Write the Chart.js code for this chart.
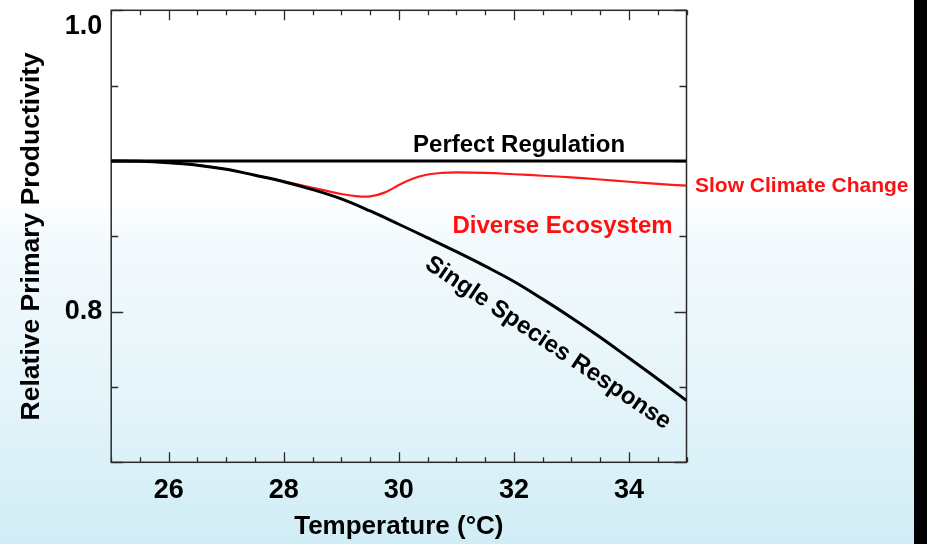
<!DOCTYPE html>
<html>
<head>
<meta charset="utf-8">
<script src="https://cdn.jsdelivr.net/npm/chart.js@4.4.1/dist/chart.umd.min.js"></script>
<style>
html,body{margin:0;padding:0;background:#000;width:927px;height:544px;overflow:hidden}
#wrap{position:absolute;left:0;top:0;width:914px;height:544px;
  background:linear-gradient(to bottom,#ffffff 0%,#ffffff 36%,#f3fafd 44%,#e6f5fa 70%,#d0edf5 100%)}
canvas{display:block}
</style>
</head>
<body>
<div id="wrap"><canvas id="c" width="914" height="544"></canvas></div>
<script>
// ---- data ----
const perfectTemps  = [25, 35];
const perfectValues = [0.900, 0.900];

const singleTemps  = [25, 25.5, 26, 26.5, 27, 27.5, 28, 28.5, 29, 29.5, 30, 30.5, 31, 31.5, 32, 32.5, 33, 33.5, 34, 34.5, 35];
const singleValues = [0.9000, 0.8998, 0.8988, 0.8972, 0.8945, 0.8905, 0.8862, 0.8810, 0.8748, 0.8668, 0.8580, 0.8490, 0.8398, 0.8302, 0.8200, 0.8083, 0.7960, 0.7830, 0.7692, 0.7553, 0.7410];

const diverseTemps  = [25, 25.5, 26, 26.5, 27, 27.5, 28, 28.5, 29, 29.25, 29.5, 29.75, 30, 30.25, 30.5, 30.75, 31, 31.5, 32, 32.5, 33, 33.5, 34, 34.5, 35];
const diverseValues = [0.9000, 0.8998, 0.8988, 0.8972, 0.8945, 0.8905, 0.8865, 0.8822, 0.8781, 0.8767, 0.8765, 0.8790, 0.8840, 0.8884, 0.8910, 0.8921, 0.8924, 0.8921, 0.8912, 0.8902, 0.8891, 0.8877, 0.8862, 0.8848, 0.8836];

const xTickValues = [26, 28, 30, 32, 34];
const xTickLabels = ['26', '28', '30', '32', '34'];
const yTickValues = [0.8, 1.0];
const yTickLabels = ['0.8', '1.0'];

const xTitle = 'Temperature (°C)';
const yTitle = 'Relative Primary Productivity';

const annotations = [
  { text: 'Perfect Regulation',      x: 32.09,  y: 0.9062, color: '#000000', size: 24, align: 'center', baseline: 'alphabetic', angle: 0 },
  { text: 'Diverse Ecosystem',       x: 32.845, y: 0.8522, color: '#ff1010', size: 24, align: 'center', baseline: 'alphabetic', angle: 0 },
  { text: 'Slow Climate Change',     x: 35.147, y: 0.8794, color: '#ff1010', size: 21, align: 'left',   baseline: 'alphabetic', angle: 0 },
  { text: 'Single Species Response', x: 32.593, y: 0.7792, color: '#000000', size: 24, align: 'center', baseline: 'middle',     angle: 34 }
];

// ---- chart ----
const FONT = "'Liberation Sans', Arial, Helvetica, sans-serif";
const pts = (xs, ys) => xs.map((t, i) => ({ x: t, y: ys[i] }));

const frameTicks = {
  id: 'frameTicks',
  beforeDatasetsDraw(chart) {
    const { ctx, chartArea: a, scales: { x, y } } = chart;
    ctx.save();
    ctx.strokeStyle = '#2a2a2a';
    ctx.lineWidth = 1.5;
    ctx.strokeRect(a.left, a.top, a.right - a.left, a.bottom - a.top);
    ctx.lineWidth = 1.3;
    ctx.beginPath();
    for (let i = 0; i <= 20; i++) {
      const v = x.min + i * 0.5;
      const px = Math.round(x.getPixelForValue(v)) + 0.5;
      const L = xTickValues.includes(v) ? 10 : 5;
      ctx.moveTo(px, a.bottom); ctx.lineTo(px, a.bottom - L);
      ctx.moveTo(px, a.top);    ctx.lineTo(px, a.top + L);
    }
    for (let i = 0; i <= 6; i++) {
      const v = y.min + i * 0.05;
      const py = Math.round(y.getPixelForValue(v)) + 0.5;
      const L = (i % 2 === 0) ? 12 : 7;
      ctx.moveTo(a.left, py);  ctx.lineTo(a.left + L, py);
      ctx.moveTo(a.right, py); ctx.lineTo(a.right - L, py);
    }
    ctx.stroke();
    ctx.restore();
  }
};

const labelsPlugin = {
  id: 'labelsPlugin',
  afterDatasetsDraw(chart) {
    const { ctx, scales: { x, y } } = chart;
    ctx.save();
    annotations.forEach(an => {
      ctx.save();
      ctx.translate(x.getPixelForValue(an.x), y.getPixelForValue(an.y));
      ctx.rotate(an.angle * Math.PI / 180);
      ctx.font = 'bold ' + an.size + 'px ' + FONT;
      ctx.fillStyle = an.color;
      ctx.textAlign = an.align;
      ctx.textBaseline = an.baseline;
      ctx.fillText(an.text, 0, 0);
      ctx.restore();
    });
    ctx.restore();
  }
};

new Chart(document.getElementById('c'), {
  type: 'line',
  data: {
    datasets: [
      { label: 'Perfect Regulation', data: pts(perfectTemps, perfectValues), borderColor: '#000', borderWidth: 3, pointRadius: 0, tension: 0 },
      { label: 'Single Species Response', data: pts(singleTemps, singleValues), borderColor: '#000', borderWidth: 3, pointRadius: 0, tension: 0.4 },
      { label: 'Diverse Ecosystem', data: pts(diverseTemps, diverseValues), borderColor: '#ff1a1a', borderWidth: 2.2, pointRadius: 0, tension: 0.4 }
    ]
  },
  options: {
    responsive: false,
    animation: false,
    events: [],
    layout: { padding: { left: 0, top: 10.3, right: 227.5, bottom: 0 } },
    plugins: { legend: { display: false }, tooltip: { enabled: false } },
    scales: {
      x: {
        type: 'linear', position: 'bottom', min: 25, max: 35,
        grid: { display: false, drawTicks: false },
        border: { display: false },
        afterBuildTicks: s => { s.ticks = xTickValues.map(v => ({ value: v })); },
        ticks: {
          color: '#000', padding: 12, maxRotation: 0, autoSkip: false,
          font: { family: FONT, size: 27, weight: 'bold' },
          callback: v => xTickLabels[xTickValues.indexOf(v)]
        },
        title: { display: true, text: xTitle, color: '#000', font: { family: FONT, size: 26, weight: 'bold' }, padding: { top: 0, bottom: 2 } },
        afterFit: s => { s.height = 81.7; s.paddingLeft = 0; s.paddingRight = 0; }
      },
      y: {
        type: 'linear', position: 'left', min: 0.7, max: 1.0,
        grid: { display: false, drawTicks: false },
        border: { display: false },
        afterBuildTicks: s => { s.ticks = yTickValues.map(v => ({ value: v })); },
        ticks: {
          color: '#000', padding: 9, autoSkip: false,
          font: { family: FONT, size: 27, weight: 'bold' },
          callback: v => {
            const i = yTickValues.findIndex(t => Math.abs(t - v) < 1e-9);
            const lab = yTickLabels[i];
            return (Math.abs(v - 1.0) < 1e-9) ? ['', lab] : lab;
          }
        },
        title: { display: true, text: yTitle, color: '#000', font: { family: FONT, size: 26.5, weight: 'bold' }, padding: { top: 16, bottom: 0 } },
        afterFit: s => { s.width = 111.2; s.paddingTop = 0; s.paddingBottom = 0; }
      }
    }
  },
  plugins: [frameTicks, labelsPlugin]
});
</script>
</body>
</html>
